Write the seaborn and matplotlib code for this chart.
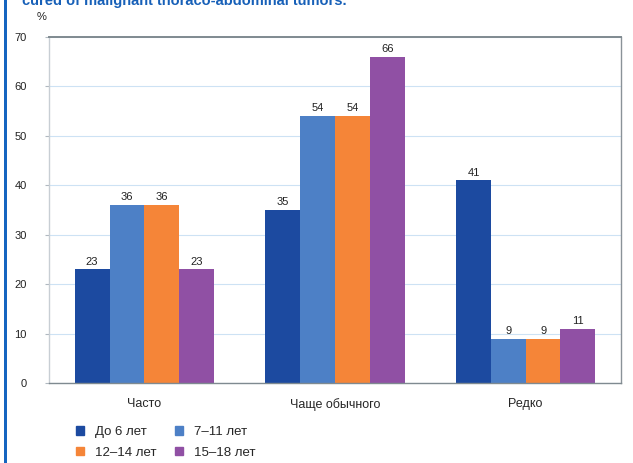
import matplotlib
matplotlib.use("Agg")
import matplotlib.pyplot as plt
import matplotlib.patches as mpatches
import seaborn as sns
import pandas as pd

categories = ["Часто", "Чаще обычного", "Редко"]
age_groups = ["До 6 лет", "7–11 лет", "12–14 лет", "15–18 лет"]
values = {
    "До 6 лет": [23, 35, 41],
    "7–11 лет": [36, 54, 9],
    "12–14 лет": [36, 54, 9],
    "15–18 лет": [23, 66, 11],
}
colors = ["#1c4aa0", "#4d80c6", "#f58538", "#9050a4"]
y_ticks = [0, 10, 20, 30, 40, 50, 60, 70]

rows = []
for g in age_groups:
    for c, v in zip(categories, values[g]):
        rows.append({"cat": c, "group": g, "value": v})
df = pd.DataFrame(rows)

sns.set_style("white")
plt.rcParams["font.family"] = ["Liberation Sans", "DejaVu Sans"]

fig = plt.figure(figsize=(6.33, 4.63), dpi=100)
ax = fig.add_axes([49 / 633, 80 / 463, 572 / 633, 346 / 463])

sns.barplot(data=df, x="cat", y="value", hue="group", order=categories,
            hue_order=age_groups, palette=colors, width=0.73, gap=0,
            saturation=1, ax=ax, legend=False, errorbar=None, linewidth=0)

for cont in ax.containers:
    ax.bar_label(cont, fmt="%d", fontsize=8, padding=2, color="#222222")

ax.set_ylim(0, 70)
ax.set_yticks(y_ticks)
ax.set_xlabel("")
ax.set_ylabel("")
ax.yaxis.grid(True, color="#cde2f4", linewidth=0.8)
ax.set_axisbelow(True)
ax.tick_params(axis="y", length=3, width=0.8, color="#b0b8c0", pad=13,
               labelsize=8, left=True)
ax.tick_params(axis="x", length=0, pad=11, labelsize=9)
for lab in ax.get_yticklabels():
    lab.set_color("#222222")

for side, col, lw in [("top", "#7f8a90", 1.4), ("right", "#8a9298", 1.0),
                      ("bottom", "#7f8a90", 1.0), ("left", "#c8ced4", 1.0)]:
    ax.spines[side].set_visible(True)
    ax.spines[side].set_color(col)
    ax.spines[side].set_linewidth(lw)

fig.text(42 / 633, 1 - 17 / 463, "%", fontsize=8, ha="center", va="center",
         color="#222222")

fig.text(22 / 633, 1 - 5 / 463, "cured of malignant thoraco-abdominal tumors.",
         fontsize=10.5, fontweight="bold", color="#1760b8", ha="left",
         va="baseline")

fig.add_artist(mpatches.Rectangle((4 / 633, 0), 2.5 / 633, 1,
                                  transform=fig.transFigure,
                                  color="#1565c0", lw=0))

handles = [mpatches.Patch(color=c, label=g) for c, g in zip(colors, age_groups)]
order = [0, 2, 1, 3]
fig.legend([handles[i] for i in order], [age_groups[i] for i in order],
           ncol=2, loc="upper left", bbox_to_anchor=(76 / 633, 1 - 426 / 463),
           frameon=False, fontsize=9.5, handlelength=0.6, handleheight=0.6,
           handletextpad=0.85, columnspacing=1.4, labelspacing=0.65,
           borderaxespad=0, borderpad=0)

fig.savefig("out.png", dpi=100)
